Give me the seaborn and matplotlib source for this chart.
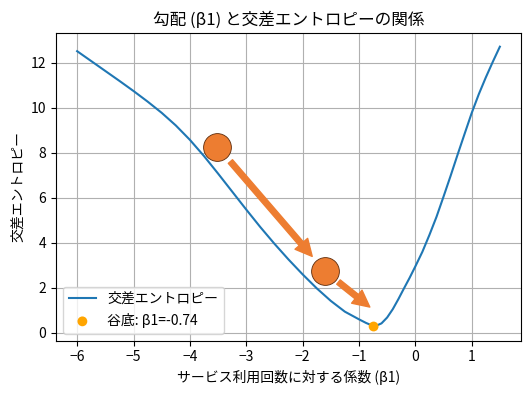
import matplotlib
matplotlib.use("Agg")
import matplotlib.pyplot as plt
import seaborn as sns
import pandas as pd

# Cross-entropy curve
beta1 = [-6.0, -5.75, -5.5, -5.25, -5.0, -4.75, -4.5, -4.25, -4.0, -3.75, -3.5,
         -3.25, -3.0, -2.75, -2.5, -2.25, -2.0, -1.75, -1.5, -1.25, -1.0, -0.875,
         -0.8, -0.74, -0.68, -0.6, -0.5, -0.4, -0.3, -0.2, -0.1, 0.0, 0.125, 0.25,
         0.375, 0.5, 0.625, 0.75, 0.875, 1.0, 1.125, 1.25, 1.375, 1.5]
entropy = [12.52, 12.08, 11.64, 11.2, 10.75, 10.28, 9.78, 9.22, 8.58, 7.86, 7.08,
           6.28, 5.48, 4.70, 3.96, 3.26, 2.60, 1.98, 1.42, 0.94, 0.60, 0.44,
           0.36, 0.32, 0.33, 0.42, 0.68, 1.05, 1.5, 1.98, 2.45, 2.95, 3.6, 4.35,
           5.15, 6.05, 6.97, 7.92, 8.85, 9.77, 10.6, 11.35, 12.05, 12.72]

# Balls (gradient descent steps) and arrow targets
ball_x = [-3.51, -1.60]
ball_y = [8.28, 2.73]
arrow_to_x = [-1.60, -0.57]
arrow_to_y = [2.73, 0.67]
arrow_shrink = [0.12, 0.23]

# Valley bottom
min_x = [-0.74]
min_y = [0.28]

title = "勾配 (β1) と交差エントロピーの関係"
xlabel = "サービス利用回数に対する係数 (β1)"
ylabel = "交差エントロピー"
line_label = "交差エントロピー"
min_label = "谷底: β1=-0.74"

plt.rcParams['font.family'] = ['Noto Sans CJK JP', 'DejaVu Sans']
plt.rcParams['axes.unicode_minus'] = True

fig, ax = plt.subplots(figsize=(5.31, 3.93), dpi=100)
fig.subplots_adjust(left=56 / 531, right=521 / 531, top=1 - 32.7 / 393, bottom=1 - 340.5 / 393)

df = pd.DataFrame({"beta1": beta1, "entropy": entropy})
sns.lineplot(data=df, x="beta1", y="entropy", ax=ax, color="#1f77b4", linewidth=1.5,
             label=line_label, sort=False)

sns.scatterplot(x=ball_x, y=ball_y, ax=ax, s=400, color="#ED7D31",
                edgecolor="#5c2a0a", linewidth=0.6, zorder=4, legend=False)

for bx, by, tx, ty, sh in zip(ball_x, ball_y, arrow_to_x, arrow_to_y, arrow_shrink):
    ax.annotate("", xy=(tx, ty), xytext=(bx, by),
                arrowprops=dict(facecolor="#ED7D31", edgecolor="#ED7D31",
                                width=4, headwidth=12, headlength=12, shrink=sh),
                zorder=3)

sns.scatterplot(x=min_x, y=min_y, ax=ax, s=50, color="orange", edgecolor="none",
                zorder=5, label=min_label)

ax.grid(True, color="#b0b0b0", linewidth=0.8)
ax.set_axisbelow(True)
ax.set_title(title, fontsize=12)
ax.set_xlabel(xlabel, fontsize=10)
ax.set_ylabel(ylabel, fontsize=10)
ax.legend(loc="lower left", fontsize=10)

fig.savefig("out.png", dpi=100)
